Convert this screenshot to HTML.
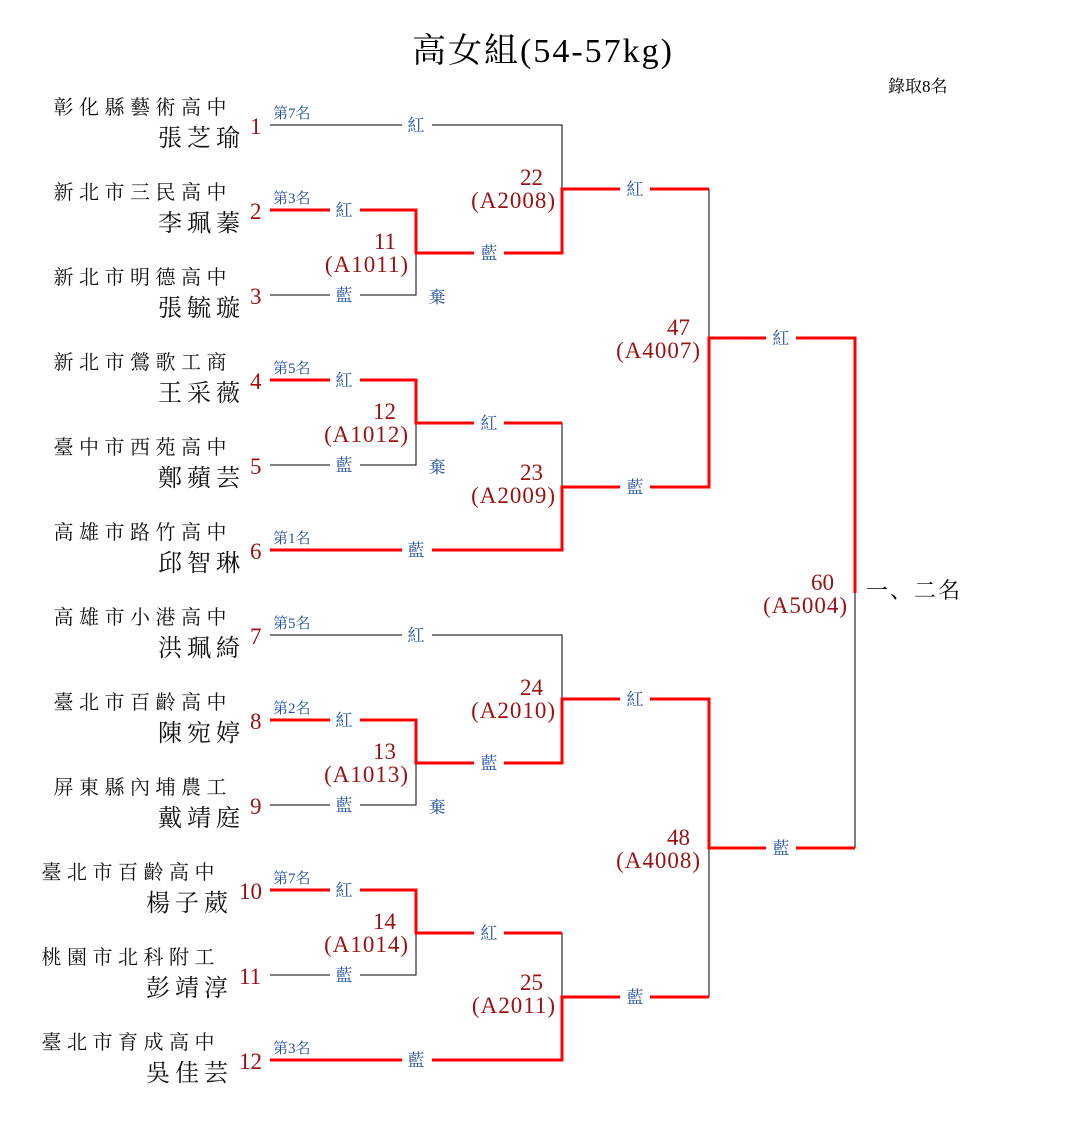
<!DOCTYPE html>
<html><head><meta charset="utf-8"><style>
html,body{margin:0;padding:0;background:#fff;}
svg{display:block;font-family:"Liberation Serif","Noto Serif CJK SC",serif;}
.s{font-size:20px;letter-spacing:5.5px;fill:#111;text-anchor:end}
.n{font-size:24px;letter-spacing:5px;fill:#111;text-anchor:end}
.no{font-size:23px;fill:#9b1010;}
.r{font-size:15px;fill:#1f4fa0;}
.b{font-size:17px;fill:#1f4fa0;text-anchor:middle}
.m{font-size:23px;fill:#9b1010;text-anchor:end}
.m .p{letter-spacing:1px}
.k{stroke:#000;stroke-width:1;fill:none}
.e{stroke:#f00;stroke-width:3;fill:none}
</style></head><body>
<svg width="1085" height="1145" viewBox="0 0 1085 1145">
<text x="543" y="62" font-size="34" text-anchor="middle" fill="#000" letter-spacing="2">高女組(54-57kg)</text>
<text x="888" y="92" font-size="17" fill="#000">錄取8名</text>

<g class="k">
<path d="M270 125H562V253"/>
<path d="M270 295H416V253"/>
<path d="M562 189V125"/>
<path d="M709 189V338"/>
<path d="M270 465H416V423"/>
<path d="M562 423V487"/>
<path d="M270 635H562V699"/>
<path d="M270 805H416V763"/>
<path d="M709 699V848"/>
<path d="M270 975H416V933"/>
<path d="M562 933V997"/>
<path d="M709 848V997"/>
<path d="M855 593V848"/>
</g>
<g class="e">
<path d="M270 210H416V253H562V189H709"/>
<path d="M270 380H416V423H562"/>
<path d="M270 550H562V487H709V338H855V593"/>
<path d="M270 720H416V763H562V699H709V848H855"/>
<path d="M270 890H416V933H562"/>
<path d="M270 1060H562V997H709"/>
</g>

<g fill="#fff">
<rect x="402" y="115" width="30" height="20"/>
<rect x="330" y="200" width="30" height="20"/>
<rect x="330" y="285" width="30" height="20"/>
<rect x="474" y="243" width="30" height="20"/>
<rect x="620" y="179" width="30" height="20"/>
<rect x="766" y="328" width="30" height="20"/>
<rect x="330" y="370" width="30" height="20"/>
<rect x="330" y="455" width="30" height="20"/>
<rect x="474" y="413" width="30" height="20"/>
<rect x="402" y="540" width="30" height="20"/>
<rect x="620" y="477" width="30" height="20"/>
<rect x="402" y="625" width="30" height="20"/>
<rect x="330" y="710" width="30" height="20"/>
<rect x="330" y="795" width="30" height="20"/>
<rect x="474" y="753" width="30" height="20"/>
<rect x="620" y="689" width="30" height="20"/>
<rect x="766" y="838" width="30" height="20"/>
<rect x="330" y="880" width="30" height="20"/>
<rect x="330" y="965" width="30" height="20"/>
<rect x="474" y="923" width="30" height="20"/>
<rect x="402" y="1050" width="30" height="20"/>
<rect x="620" y="987" width="30" height="20"/>
</g>
<g class="b">
<text x="416" y="131">紅</text>
<text x="344" y="216">紅</text>
<text x="344" y="301">藍</text>
<text x="489" y="259">藍</text>
<text x="635" y="195">紅</text>
<text x="781" y="344">紅</text>
<text x="344" y="386">紅</text>
<text x="344" y="471">藍</text>
<text x="489" y="429">紅</text>
<text x="416" y="556">藍</text>
<text x="635" y="493">藍</text>
<text x="416" y="641">紅</text>
<text x="344" y="726">紅</text>
<text x="344" y="811">藍</text>
<text x="489" y="769">藍</text>
<text x="635" y="705">紅</text>
<text x="781" y="854">藍</text>
<text x="344" y="896">紅</text>
<text x="344" y="981">藍</text>
<text x="489" y="939">紅</text>
<text x="416" y="1066">藍</text>
<text x="635" y="1003">藍</text>
<text x="437" y="303">棄</text>
<text x="437" y="473">棄</text>
<text x="437" y="813">棄</text>
</g>

<g class="r">
<text x="273" y="118">第7名</text>
<text x="273" y="203">第3名</text>
<text x="273" y="373">第5名</text>
<text x="273" y="543">第1名</text>
<text x="273" y="628">第5名</text>
<text x="273" y="713">第2名</text>
<text x="273" y="883">第7名</text>
<text x="273" y="1053">第3名</text>
</g>

<g class="m">
<text x="543" y="185">22</text><text class="p" x="556" y="208">(A2008)</text>
<text x="396" y="249">11</text><text class="p" x="409" y="272">(A1011)</text>
<text x="396" y="419">12</text><text class="p" x="409" y="442">(A1012)</text>
<text x="543" y="480">23</text><text class="p" x="556" y="503">(A2009)</text>
<text x="690" y="335">47</text><text class="p" x="701" y="358">(A4007)</text>
<text x="834" y="590">60</text><text class="p" x="848" y="613">(A5004)</text>
<text x="543" y="695">24</text><text class="p" x="556" y="718">(A2010)</text>
<text x="396" y="759">13</text><text class="p" x="409" y="782">(A1013)</text>
<text x="690" y="845">48</text><text class="p" x="701" y="868">(A4008)</text>
<text x="396" y="929">14</text><text class="p" x="409" y="952">(A1014)</text>
<text x="543" y="990">25</text><text class="p" x="556" y="1013">(A2011)</text>
</g>
<text x="866" y="598" font-size="22" fill="#000" letter-spacing="2">一、二名</text>

<g class="no">
<text x="250" y="134">1</text>
<text x="250" y="219">2</text>
<text x="250" y="304">3</text>
<text x="250" y="389">4</text>
<text x="250" y="474">5</text>
<text x="250" y="559">6</text>
<text x="250" y="644">7</text>
<text x="250" y="729">8</text>
<text x="250" y="814">9</text>
<text x="239" y="899">10</text>
<text x="239" y="984">11</text>
<text x="239" y="1069">12</text>
</g>
<g class="s">
<text x="232" y="114">彰化縣藝術高中</text>
<text x="232" y="199">新北市三民高中</text>
<text x="232" y="284">新北市明德高中</text>
<text x="232" y="369">新北市鶯歌工商</text>
<text x="232" y="454">臺中市西苑高中</text>
<text x="232" y="539">高雄市路竹高中</text>
<text x="232" y="624">高雄市小港高中</text>
<text x="232" y="709">臺北市百齡高中</text>
<text x="232" y="794">屏東縣內埔農工</text>
<text x="220" y="879">臺北市百齡高中</text>
<text x="220" y="964">桃園市北科附工</text>
<text x="220" y="1049">臺北市育成高中</text>
</g>
<g class="n">
<text x="245" y="146">張芝瑜</text>
<text x="245" y="231">李珮蓁</text>
<text x="245" y="316">張毓璇</text>
<text x="245" y="401">王采薇</text>
<text x="245" y="486">鄭蘋芸</text>
<text x="245" y="571">邱智琳</text>
<text x="245" y="656">洪珮綺</text>
<text x="245" y="741">陳宛婷</text>
<text x="245" y="826">戴靖庭</text>
<text x="233" y="911">楊子葳</text>
<text x="233" y="996">彭靖淳</text>
<text x="233" y="1081">吳佳芸</text>
</g>
</svg>
</body></html>
